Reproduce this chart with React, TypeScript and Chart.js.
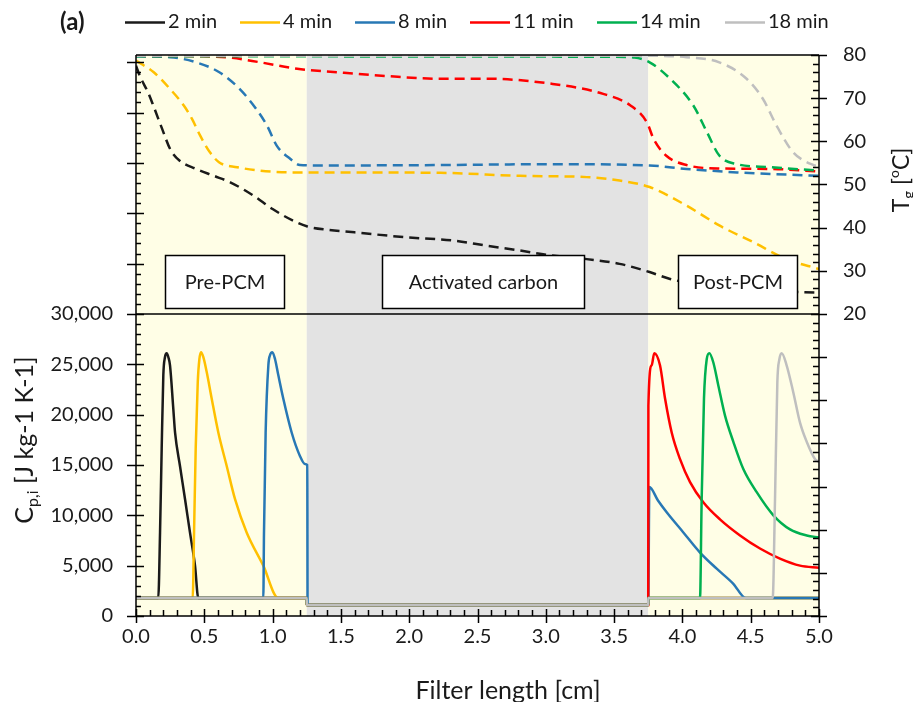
import React, { useEffect, useRef } from 'react';
import { Chart, registerables } from 'chart.js';

Chart.register(...registerables);

// ---------------- data ----------------
const SERIES_LABELS = ['2 min', '4 min', '8 min', '11 min', '14 min', '18 min'];
const SERIES_COLORS = ['#1a1a1a', '#FFC000', '#2878B5', '#FF0000', '#00B050', '#BFBFBF'];

// tick labels
const X_TICKS = [0, 0.5, 1, 1.5, 2, 2.5, 3, 3.5, 4, 4.5, 5];
const CP_TICKS = [0, 5000, 10000, 15000, 20000, 25000, 30000];
const T_TICKS = [20, 30, 40, 50, 60, 70, 80];

// Gas temperature T_g [°C] (dashed, right axis)
const T2_X = [0, 0.03, 0.09, 0.13, 0.19, 0.25, 0.32, 0.44, 0.57, 0.69, 0.86, 1.0, 1.15, 1.25, 1.4, 1.6, 1.96, 2.32, 2.57, 2.81, 3.01, 3.3, 3.54, 3.76, 3.91, 4.2, 4.68, 5.0];
const T2_Y = [77.5, 75, 71.2, 68, 63, 58.2, 55.5, 53.6, 52.0, 50.5, 47.4, 44.3, 41.6, 40.3, 39.5, 38.9, 37.8, 37.0, 35.8, 34.7, 33.7, 32.7, 31.6, 29.7, 28.1, 26.5, 25.3, 24.9];
const T4_X = [0, 0.13, 0.25, 0.35, 0.41, 0.47, 0.54, 0.61, 0.74, 0.91, 1.15, 1.35, 2.23, 2.81, 3.3, 3.54, 3.76, 4.03, 4.27, 4.52, 4.76, 5.0];
const T4_Y = [78.7, 76.0, 72.1, 68.3, 65.2, 61.3, 57.5, 55.1, 54.0, 53.2, 52.8, 52.8, 52.7, 52.0, 51.7, 50.9, 49.4, 45.1, 40.5, 36.6, 32.7, 30.4];
const T8_X = [0, 0.25, 0.44, 0.61, 0.76, 0.88, 0.96, 1.03, 1.13, 1.2, 1.35, 2.23, 3.05, 3.76, 4.03, 4.4, 5.0];
const T8_Y = [79.7, 79.5, 78.3, 76.0, 72.1, 67.5, 63.6, 59.0, 55.9, 54.5, 54.4, 54.5, 54.7, 54.4, 53.6, 52.8, 52.0];
const T11_X = [0, 0.47, 0.69, 0.91, 1.18, 1.47, 1.84, 2.23, 2.57, 3.05, 3.42, 3.62, 3.74, 3.79, 3.88, 4.03, 4.27, 4.64, 5.0];
const T11_Y = [79.8, 79.7, 79.4, 78.3, 76.8, 76.0, 75.1, 74.5, 74.5, 73.3, 71.0, 68.3, 64.4, 60.5, 56.7, 54.5, 53.7, 53.6, 53.0];
const T14_X = [0, 3.5, 3.65, 3.76, 3.91, 4.08, 4.18, 4.27, 4.4, 4.64, 5.0];
const T14_Y = [79.7, 79.6, 79.4, 78.3, 74.5, 68.3, 62.1, 56.7, 54.7, 54.0, 53.2];
const T18_X = [0, 3.8, 4.03, 4.27, 4.47, 4.59, 4.69, 4.81, 4.96, 5.0];
const T18_Y = [79.8, 79.8, 79.5, 78.3, 74.5, 69.8, 63.6, 57.5, 54.5, 54.2];

// Effective heat capacity C_p,i [J kg-1 K-1] (solid, left axis)
const CP2_X = [0, 0.163, 0.176, 0.188, 0.2, 0.212, 0.225, 0.237, 0.249, 0.273, 0.286, 0.322, 0.359, 0.395, 0.432, 0.456, 1.2499, 1.2501, 3.7499, 3.7501, 5.0];
const CP2_Y = [1800, 1800, 8300, 16600, 23900, 25700, 26100, 25700, 24900, 20600, 18200, 14900, 11600, 8300, 5000, 1800, 1800, 1100, 1100, 1800, 1800];
const CP4_X = [0, 0.415, 0.425, 0.437, 0.452, 0.464, 0.476, 0.493, 0.518, 0.554, 0.603, 0.664, 0.725, 0.81, 0.932, 1.04, 1.2499, 1.2501, 3.7499, 3.7501, 5.0];
const CP4_Y = [1800, 1800, 8300, 16600, 23200, 25500, 26200, 25700, 24200, 21600, 18200, 14900, 11600, 8300, 5000, 1800, 1800, 1100, 1100, 1800, 1800];
const CP8_X = [0, 0.932, 0.937, 0.949, 0.969, 0.981, 0.998, 1.018, 1.042, 1.078, 1.14, 1.2, 1.237, 1.254, 1.256, 3.7499, 3.758, 3.82, 3.885, 4.007, 4.129, 4.251, 4.373, 4.463, 5.0];
const CP8_Y = [1800, 1800, 8300, 18200, 24900, 25900, 26200, 25500, 23900, 21600, 18200, 15900, 15100, 15000, 1100, 1100, 12800, 11500, 10300, 8300, 6300, 4700, 3200, 1800, 1800];
const CP11_X = [0, 1.2499, 1.2501, 3.7499, 3.751, 3.775, 3.794, 3.836, 3.873, 3.922, 3.982, 4.056, 4.153, 4.275, 4.422, 4.568, 4.714, 4.861, 5.0];
const CP11_Y = [1800, 1800, 1100, 1100, 20900, 24900, 26100, 24900, 21600, 18200, 15600, 13300, 11300, 9600, 8000, 6700, 5700, 5000, 4800];
const CP14_X = [0, 1.2499, 1.2501, 3.7499, 3.7501, 4.129, 4.141, 4.158, 4.178, 4.197, 4.226, 4.263, 4.312, 4.373, 4.446, 4.544, 4.666, 4.788, 4.91, 5.0];
const CP14_Y = [1800, 1800, 1100, 1100, 1800, 1800, 11600, 21600, 25500, 26100, 25200, 22900, 19900, 17300, 14600, 12300, 10000, 8600, 8000, 7800];
const CP18_X = [0, 1.2499, 1.2501, 3.7499, 3.7501, 4.661, 4.678, 4.695, 4.71, 4.727, 4.763, 4.812, 4.861, 4.91, 4.97, 5.0];
const CP18_Y = [1800, 1800, 1100, 1100, 1800, 1800, 11600, 23200, 25500, 26100, 24900, 22200, 19200, 17300, 15600, 15300];

const T_X = [T2_X, T4_X, T8_X, T11_X, T14_X, T18_X];
const T_Y = [T2_Y, T4_Y, T8_Y, T11_Y, T14_Y, T18_Y];
const CP_X = [CP2_X, CP4_X, CP8_X, CP11_X, CP14_X, CP18_X];
const CP_Y = [CP2_Y, CP4_Y, CP8_Y, CP11_Y, CP14_Y, CP18_Y];

// filter zones
const ZONE_EDGES = [0, 1.25, 3.75, 5];
const ZONE_NAMES = ['Pre-PCM', 'Activated carbon', 'Post-PCM'];
const BOX_X0 = [0.21, 1.80, 3.97];
const BOX_X1 = [1.08, 3.28, 4.84];
const BOX_T = [21.3, 33.7];

const X_MIN = 0, X_MAX = 5, X_STEP = 0.5, X_MINOR = 0.1;
const CP_MIN = 0, CP_LABEL_MAX = 30000, CP_STEP = 5000, CP_MINOR = 1000;
const T_MIN = -50, T_MAX = 80, T_LABEL_MIN = 20, T_STEP = 10, T_MINOR = 2;
const CP_MAX = (CP_LABEL_MAX * (T_MAX - T_MIN)) / (T_LABEL_MIN - T_MIN);

// ---------------- styling ----------------
const FONT = 'Lato, "Open Sans", sans-serif';
const ZONE_COLORS = ['#FFFEE6', '#E3E3E3', '#FFFEE6'];
const LEGEND_X = [117, 232, 347, 462, 589, 717];

const fmtComma = (v: number) => String(Math.round(v)).replace(/\B(?=(\d{3})+(?!\d))/g, ',');
const isMultiple = (v: number, step: number) => Math.abs(v - Math.round(v / step) * step) < 1e-6;

function drawPieces(ctx: CanvasRenderingContext2D, pieces: { t: string; size: number; dy: number }[], cx: number, cy: number, rot: number) {
  ctx.save();
  ctx.translate(cx, cy);
  ctx.rotate(rot);
  let total = 0;
  for (const p of pieces) {
    ctx.font = `${p.size}px ${FONT}`;
    total += ctx.measureText(p.t).width;
  }
  let x = -total / 2;
  ctx.textBaseline = 'alphabetic';
  ctx.textAlign = 'left';
  for (const p of pieces) {
    ctx.font = `${p.size}px ${FONT}`;
    ctx.fillText(p.t, x, p.dy);
    x += ctx.measureText(p.t).width;
  }
  ctx.restore();
}

const decorPlugin = {
  id: 'decor',
  beforeDraw(chart: any) {
    const { ctx, chartArea: a, scales } = chart;
    const xs = scales.x;
    ctx.save();
    for (let i = 0; i < ZONE_NAMES.length; i++) {
      const x0 = xs.getPixelForValue(ZONE_EDGES[i]);
      const x1 = xs.getPixelForValue(ZONE_EDGES[i + 1]);
      ctx.fillStyle = ZONE_COLORS[i];
      ctx.fillRect(x0, a.top, x1 - x0, a.bottom - a.top);
    }
    ctx.restore();
  },
  afterDatasetsDraw(chart: any) {
    const { ctx, chartArea: a, scales } = chart;
    const xs = scales.x, yR = scales.yR, yL = scales.yL;
    ctx.save();
    // separator line
    const ySep = yL.getPixelForValue(CP_LABEL_MAX);
    ctx.strokeStyle = '#000';
    ctx.lineWidth = 1.5;
    ctx.beginPath();
    ctx.moveTo(a.left, ySep);
    ctx.lineTo(a.right, ySep);
    ctx.stroke();
    // zone boxes
    for (let i = 0; i < ZONE_NAMES.length; i++) {
      const x0 = Math.round(xs.getPixelForValue(BOX_X0[i])) + 0.5;
      const x1 = Math.round(xs.getPixelForValue(BOX_X1[i])) + 0.5;
      const y0 = Math.round(yR.getPixelForValue(BOX_T[1])) + 0.5;
      const y1 = Math.round(yR.getPixelForValue(BOX_T[0])) + 0.5;
      ctx.fillStyle = '#fff';
      ctx.fillRect(x0, y0, x1 - x0, y1 - y0);
      ctx.strokeStyle = '#000';
      ctx.lineWidth = 1.5;
      ctx.strokeRect(x0, y0, x1 - x0, y1 - y0);
      ctx.fillStyle = '#1a1a1a';
      ctx.font = `20px ${FONT}`;
      ctx.textAlign = 'center';
      ctx.textBaseline = 'middle';
      ctx.fillText(ZONE_NAMES[i], (x0 + x1) / 2, (y0 + y1) / 2 + 1);
    }
    // frame
    ctx.strokeStyle = '#000';
    ctx.lineWidth = 1.5;
    ctx.beginPath();
    ctx.moveTo(a.left, a.top);
    ctx.lineTo(a.right, a.top);
    ctx.moveTo(a.left, a.top);
    ctx.lineTo(a.left, a.bottom);
    ctx.lineTo(a.right, a.bottom);
    ctx.moveTo(a.right, a.top);
    ctx.lineTo(a.right, a.bottom);
    ctx.stroke();
    // tick marks
    ctx.lineWidth = 1.5;
    ctx.beginPath();
    for (let k = 0; CP_MIN + k * CP_MINOR <= CP_MAX + 1e-6; k++) {
      const v = CP_MIN + k * CP_MINOR;
      const y = Math.round(yL.getPixelForValue(v)) + 0.5;
      const major = isMultiple(v, CP_STEP);
      ctx.moveTo(major ? a.left - 9 : a.left, y);
      ctx.lineTo(a.left + (major ? 8 : 5), y);
    }
    for (let k = 0; T_MIN + k * T_MINOR <= T_MAX + 1e-6; k++) {
      const v = T_MIN + k * T_MINOR;
      const y = Math.round(yR.getPixelForValue(v)) + 0.5;
      const major = isMultiple(v - T_MIN, T_STEP);
      ctx.moveTo(a.right - (major ? 8 : 6), y);
      ctx.lineTo(major ? a.right + 8 : a.right, y);
    }
    for (let k = 0; k <= Math.round((X_MAX - X_MIN) / X_MINOR); k++) {
      const v = X_MIN + k * X_MINOR;
      const x = Math.round(xs.getPixelForValue(v)) + 0.5;
      const major = k % Math.round(X_STEP / X_MINOR) === 0;
      ctx.moveTo(x, a.bottom - (major ? 7 : 6));
      ctx.lineTo(x, major ? a.bottom + 7 : a.bottom);
    }
    ctx.stroke();
    ctx.restore();
  },
  afterDraw(chart: any) {
    const { ctx } = chart;
    ctx.save();
    ctx.fillStyle = '#1a1a1a';
    // panel label
    ctx.font = `bold 24px ${FONT}`;
    ctx.textAlign = 'left';
    ctx.textBaseline = 'middle';
    ctx.fillText('(a)', 52, 14);
    // legend
    for (let i = 0; i < SERIES_LABELS.length; i++) {
      const lx = LEGEND_X[i];
      ctx.strokeStyle = SERIES_COLORS[i];
      ctx.lineWidth = 2.5;
      ctx.beginPath();
      ctx.moveTo(lx, 14.5);
      ctx.lineTo(lx + 40, 14.5);
      ctx.stroke();
      ctx.fillStyle = '#1a1a1a';
      ctx.font = `20px ${FONT}`;
      ctx.textAlign = 'left';
      ctx.textBaseline = 'middle';
      ctx.fillText(SERIES_LABELS[i], lx + 43, 14);
    }
    // axis titles
    ctx.fillStyle = '#1a1a1a';
    drawPieces(ctx, [{ t: 'Filter length [cm]', size: 25, dy: 0 }], 500, 691, 0);
    drawPieces(ctx, [
      { t: 'C', size: 25, dy: 0 },
      { t: 'p,i', size: 16, dy: 5 },
      { t: ' [J kg-1 K-1]', size: 25, dy: 0 },
    ], 25, 432, -Math.PI / 2);
    drawPieces(ctx, [
      { t: 'T', size: 23, dy: 0 },
      { t: 'g', size: 15, dy: 5 },
      { t: ' [', size: 23, dy: 0 },
      { t: 'o', size: 14, dy: -10 },
      { t: 'C]', size: 23, dy: 0 },
    ], 901, 172, -Math.PI / 2);
    ctx.restore();
  },
};

const fixTicks = (values: number[]) => (s: any) => {
  s.ticks = values.map((value) => ({ value }));
};

export default function App() {
  const ref = useRef<HTMLCanvasElement | null>(null);
  useEffect(() => {
    if (!ref.current) return;
    const datasets: any[] = [];
    for (let i = 0; i < SERIES_LABELS.length; i++) {
      datasets.push({
        label: SERIES_LABELS[i] + ' T',
        data: T_X[i].map((x, j) => ({ x, y: T_Y[i][j] })),
        yAxisID: 'yR',
        borderColor: SERIES_COLORS[i],
        borderWidth: 2.5,
        borderDash: [10, 6],
        pointRadius: 0,
        cubicInterpolationMode: 'monotone',
        order: 20 - i,
      });
    }
    for (let i = 0; i < SERIES_LABELS.length; i++) {
      datasets.push({
        label: SERIES_LABELS[i],
        data: CP_X[i].map((x, j) => ({ x, y: CP_Y[i][j] })),
        yAxisID: 'yL',
        borderColor: SERIES_COLORS[i],
        borderWidth: 2.5,
        pointRadius: 0,
        cubicInterpolationMode: 'monotone',
        order: 10 - i,
      });
    }
    const tickFont = { family: FONT, size: 20 };
    const chart = new Chart(ref.current, {
      type: 'line',
      data: { datasets },
      options: {
        animation: false,
        responsive: true,
        maintainAspectRatio: false,
        layout: { padding: { top: 47, left: 0, right: 0, bottom: 0 } },
        plugins: { legend: { display: false }, tooltip: { enabled: false } },
        scales: {
          x: {
            type: 'linear',
            min: X_MIN,
            max: X_MAX,
            grid: { display: false, drawTicks: false },
            border: { display: false },
            afterBuildTicks: fixTicks(X_TICKS),
            ticks: {
              autoSkip: false,
              maxRotation: 0,
              padding: 9,
              color: '#1a1a1a',
              font: tickFont,
              callback: (v: any) => Number(v).toFixed(1),
            },
            afterFit: (s: any) => { s.height = 86; },
          },
          yL: {
            type: 'linear',
            position: 'left',
            min: CP_MIN,
            max: CP_MAX,
            grid: { display: false, drawTicks: false },
            border: { display: false },
            afterBuildTicks: fixTicks(CP_TICKS),
            ticks: {
              autoSkip: false,
              padding: 23,
              color: '#1a1a1a',
              font: tickFont,
              callback: (v: any) => fmtComma(Number(v)),
            },
            afterFit: (s: any) => { s.width = 128; },
          },
          yR: {
            type: 'linear',
            position: 'right',
            min: T_MIN,
            max: T_MAX,
            grid: { display: false, drawTicks: false },
            border: { display: false },
            afterBuildTicks: fixTicks(T_TICKS),
            ticks: {
              autoSkip: false,
              padding: 24,
              color: '#1a1a1a',
              font: tickFont,
              callback: (v: any) => String(v),
            },
            afterFit: (s: any) => { s.width = 94; },
          },
        },
      } as any,
      plugins: [decorPlugin],
    });
    return () => chart.destroy();
  }, []);
  return (
    <div style={{ position: 'relative', width: 905, height: 694 }}>
      <canvas ref={ref} style={{ display: 'block' }} />
    </div>
  );
}
